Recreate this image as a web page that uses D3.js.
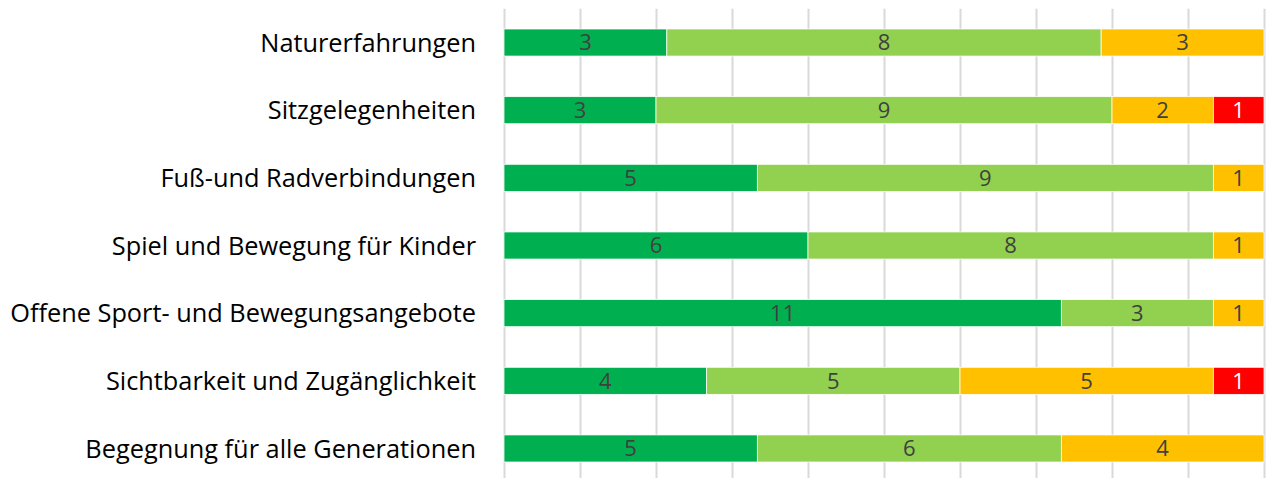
<!DOCTYPE html>
<html>
<head>
<meta charset="utf-8">
<script src="https://cdn.jsdelivr.net/npm/d3@7"></script>
<style>
  body { margin: 0; background: #fff; }
  svg { display: block; font-family: "Open Sans", "Noto Sans", sans-serif; }
</style>
</head>
<body>
<svg id="chart" width="1268" height="478"></svg>
<script>
// categories top to bottom
const categories = [
    "Naturerfahrungen",
    "Sitzgelegenheiten",
    "Fuß-und Radverbindungen",
    "Spiel und Bewegung für Kinder",
    "Offene Sport- und Bewegungsangebote",
    "Sichtbarkeit und Zugänglichkeit",
    "Begegnung für alle Generationen"
];

// counts per rating, same order as categories
const veryGood = [3, 3, 5, 6, 11, 4, 5];
const good     = [8, 9, 9, 8, 3, 5, 6];
const fair     = [3, 2, 1, 1, 1, 5, 4];
const poor     = [0, 1, 0, 0, 0, 1, 0];

const seriesKeys = ["veryGood", "good", "fair", "poor"];
const colors = ["#00b050", "#92d050", "#ffc000", "#ff0000"];
const labelColors = ["#404040", "#404040", "#404040", "#ffffff"];

const gridTicks = [0, 0.1, 0.2, 0.3, 0.4, 0.5, 0.6, 0.7, 0.8, 0.9, 1];

const margin = {top: 8.7, bottom: -4.3, left: 504, right: 4};

const svg = d3.select("#chart");
const width = +svg.attr("width");
const height = +svg.attr("height");

const rows = categories.map((c, i) => ({
    category: c,
    veryGood: veryGood[i],
    good: good[i],
    fair: fair[i],
    poor: poor[i]
}));

// 100% stacked
const stack = d3.stack()
    .keys(seriesKeys)
    .offset(d3.stackOffsetExpand);
const layers = stack(rows);

const x = d3.scaleLinear()
    .domain([0, 1])
    .range([margin.left, width - margin.right]);

const y = d3.scaleBand()
    .domain(categories)
    .range([margin.top, height - margin.bottom])
    .paddingInner(0.6)
    .paddingOuter(0.3);

// vertical gridlines
svg.append("g")
    .attr("class", "grid")
    .attr("transform", `translate(0, ${height})`)
    .call(d3.axisBottom(x).tickValues(gridTicks).tickSize(-(height - margin.top)).tickFormat(""))
    .call(g => g.select(".domain").remove())
    .call(g => g.selectAll("line").attr("stroke", "#d9d9d9").attr("stroke-width", 2));

const layer = svg.append("g")
    .selectAll("g")
    .data(layers)
    .join("g")
    .attr("fill", (d, i) => colors[i]);

layer.selectAll("rect")
    .data(d => d.map(v => ({v, key: d.key})))
    .join("rect")
    .attr("x", d => x(d.v[0]))
    .attr("y", d => y(d.v.data.category))
    .attr("width", d => x(d.v[1]) - x(d.v[0]))
    .attr("height", y.bandwidth())
    .attr("stroke", "#ffffff")
    .attr("stroke-width", 0.75);

// value labels
layer.selectAll("text")
    .data((d, i) => d.map(v => ({v, key: d.key, i})).filter(e => e.v.data[e.key] > 0))
    .join("text")
    .attr("x", d => (x(d.v[0]) + x(d.v[1])) / 2)
    .attr("y", d => y(d.v.data.category) + y.bandwidth() / 2)
    .attr("dy", "0.36em")
    .attr("text-anchor", "middle")
    .attr("font-size", 22)
    .attr("fill", d => labelColors[d.i])
    .text(d => d.v.data[d.key]);

// category labels
const catLabels = svg.append("g")
    .selectAll("text")
    .data(categories)
    .join("text")
    .attr("x", margin.left - 28)
    .attr("y", d => y(d) + y.bandwidth() / 2)
    .attr("dy", "0.36em")
    .attr("text-anchor", "end")
    .attr("font-size", 22)
    .attr("fill", "#000")
    .text(d => d);

// fit font so the longest label spans like the original (~466px)
const longest = d3.max(catLabels.nodes(), n => n.getComputedTextLength());
catLabels.attr("font-size", 22 * 466 / longest);
</script>
</body>
</html>
